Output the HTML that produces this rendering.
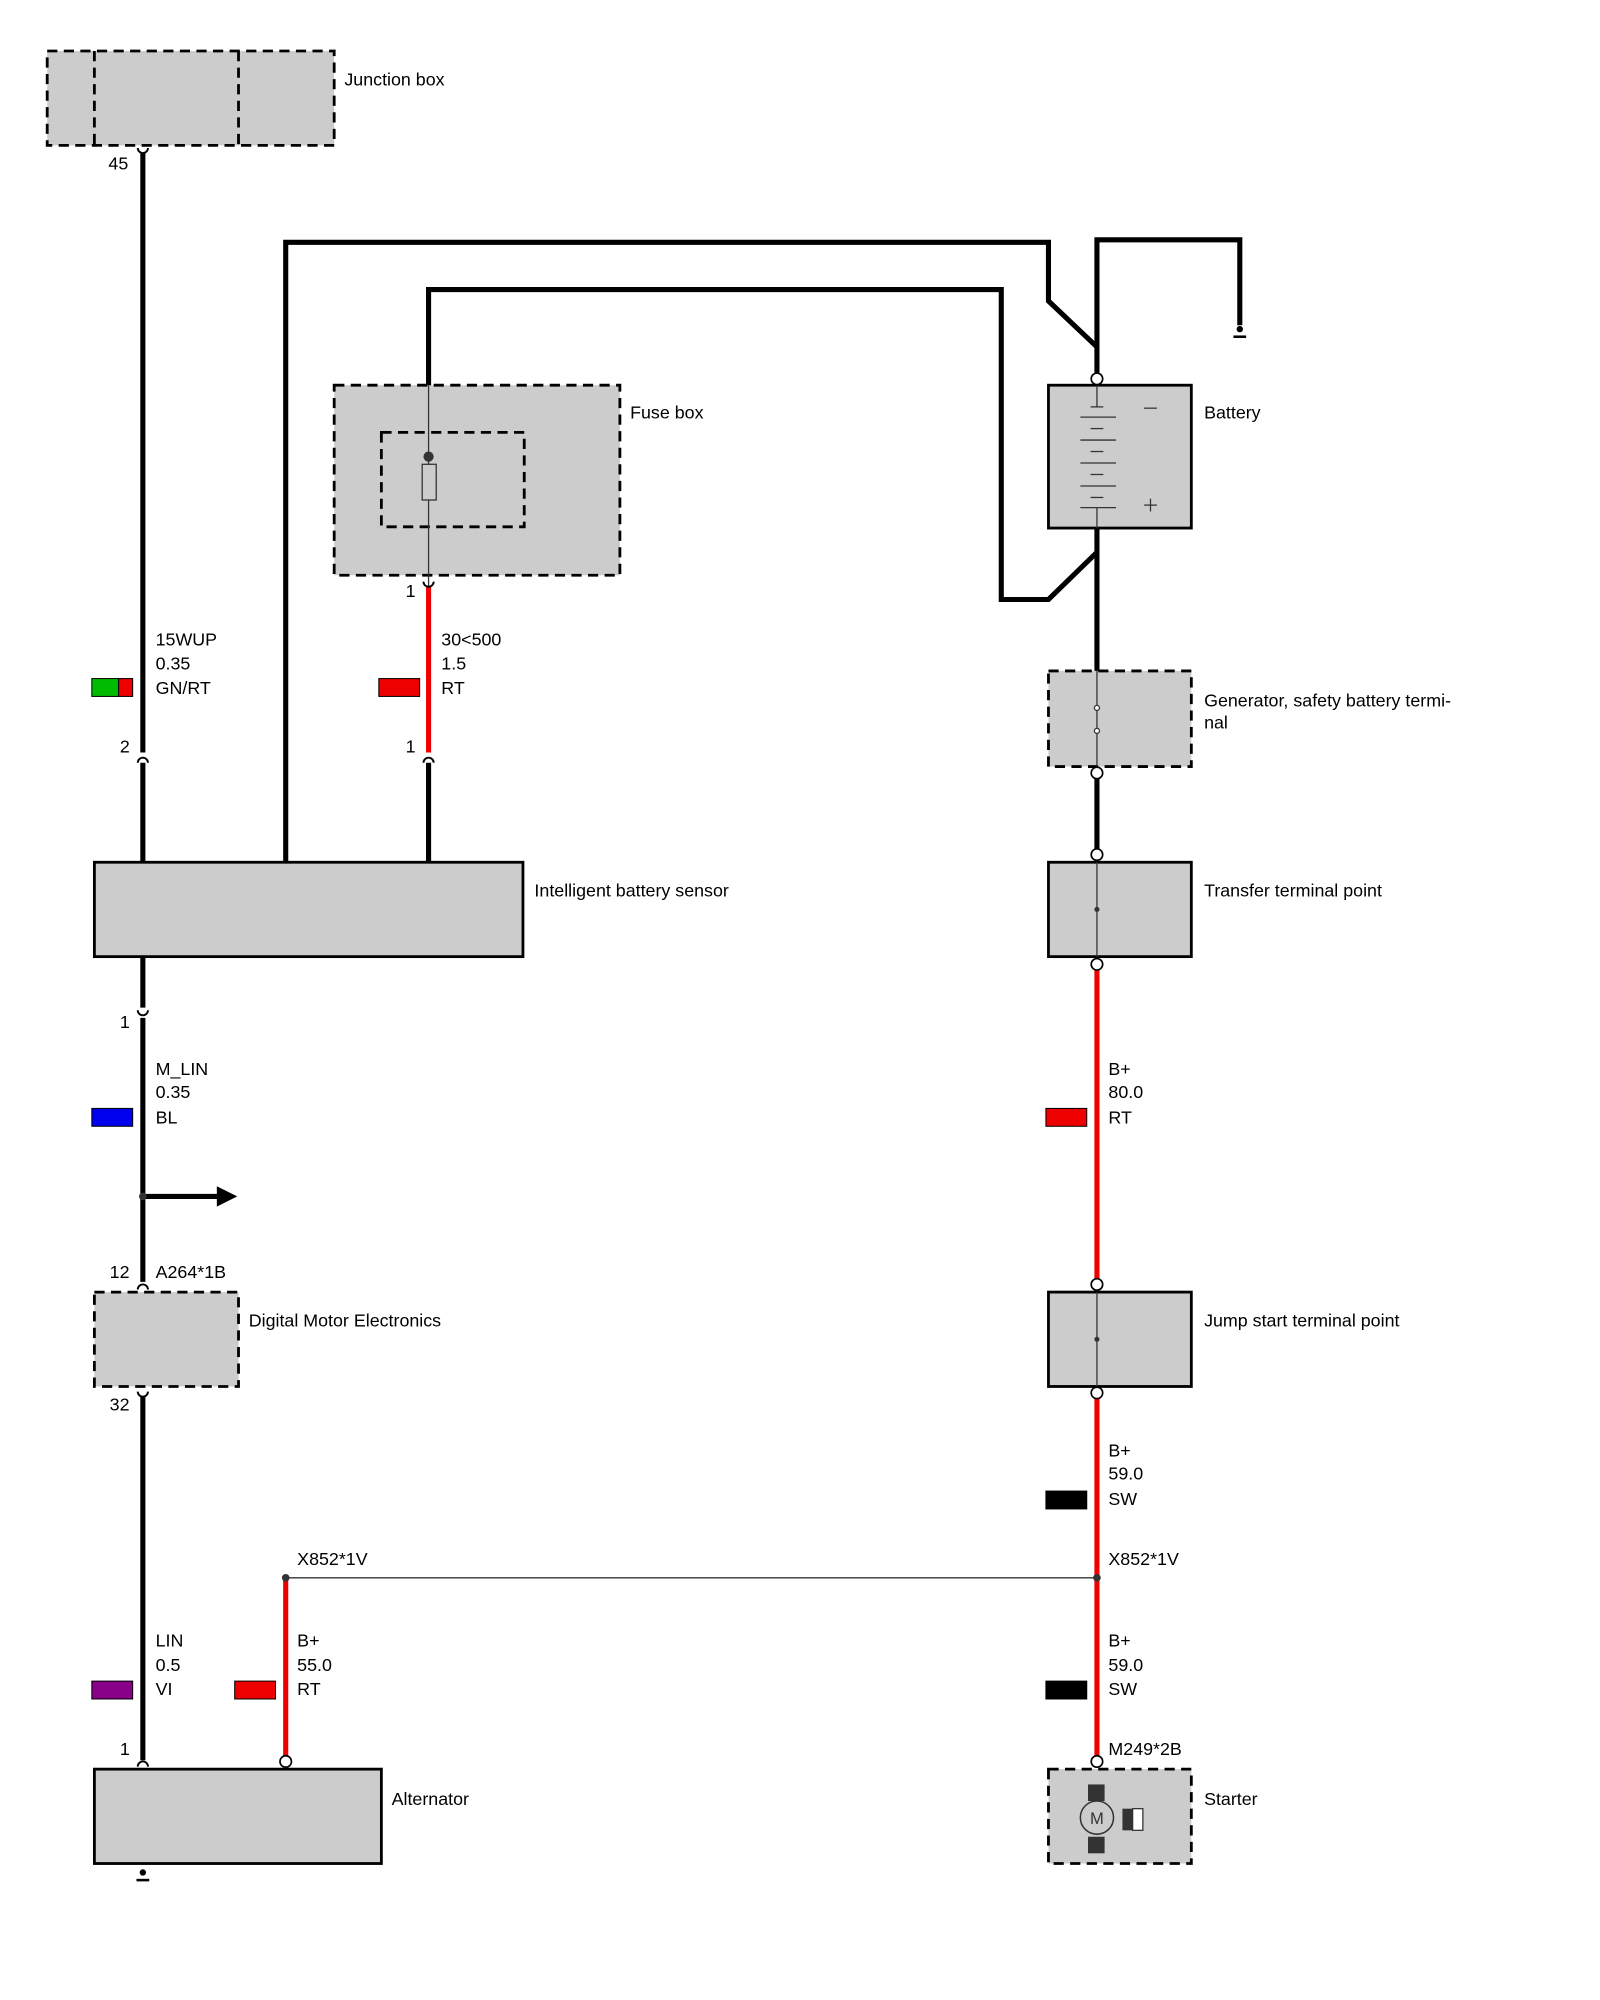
<!DOCTYPE html>
<html><head><meta charset="utf-8"><style>html,body{margin:0;padding:0;background:#fff}svg{display:block}</style></head>
<body>
<svg width="1600" height="2000" viewBox="0 0 1254 1568" preserveAspectRatio="xMinYMin meet" xmlns="http://www.w3.org/2000/svg" font-family="Liberation Sans, sans-serif" font-size="14" fill="#000">
<rect width="1254" height="1568" fill="#fff"/>
<g stroke="#000" stroke-width="2.2" stroke-dasharray="8,5" fill="#ccc">
<rect x="37" y="40" width="225" height="74"/>
<line x1="74" y1="40" x2="74" y2="114"/><line x1="187" y1="40" x2="187" y2="114"/>
<rect x="262" y="302" width="224" height="149"/>
<rect x="299" y="339" width="112" height="74"/>
<rect x="822" y="526" width="112" height="75"/>
<rect x="74" y="1013" width="113" height="74"/>
<rect x="822" y="1387" width="112" height="74"/>
</g>
<g stroke="#000" stroke-width="2.2" fill="#ccc">
<rect x="822" y="302" width="112" height="112"/>
<rect x="74" y="676" width="336" height="74"/>
<rect x="822" y="676" width="112" height="74"/>
<rect x="822" y="1013" width="112" height="74"/>
<rect x="74" y="1387" width="225" height="74"/>
</g>
<g stroke="#000" stroke-width="4" fill="none">
<line x1="112" y1="120" x2="112" y2="590"/>
<line x1="112" y1="598" x2="112" y2="676"/>
<polyline points="224,676 224,190 822,190 822,236 860,272 860,292"/>
<polyline points="860,272 860,188 972,188 972,255"/>
<polyline points="336,302 336,227 785,227 785,470 822,470 860,433"/>
<line x1="860" y1="414" x2="860" y2="526"/>
<line x1="860" y1="606" x2="860" y2="670"/>
<line x1="336" y1="598" x2="336" y2="676"/>
<line x1="112" y1="750" x2="112" y2="790"/>
<line x1="112" y1="798" x2="112" y2="1005"/>
<line x1="112" y1="1095" x2="112" y2="1380"/>
<line x1="112" y1="938" x2="172" y2="938"/>
</g>
<polygon points="170,930 186,938 170,946" fill="#000"/>
<g stroke="#e00" stroke-width="4">
<line x1="336" y1="460" x2="336" y2="590"/>
<line x1="860" y1="760" x2="860" y2="1003"/>
<line x1="860" y1="1096" x2="860" y2="1377"/>
<line x1="224" y1="1237" x2="224" y2="1377"/>
</g>
<g stroke="#333" stroke-width="1" fill="none">
<line x1="336" y1="302" x2="336" y2="460"/>
<line x1="860" y1="526" x2="860" y2="601"/>
<line x1="860" y1="676" x2="860" y2="750"/>
<line x1="860" y1="1013" x2="860" y2="1087"/>
<line x1="224" y1="1237" x2="860" y2="1237"/>
<rect x="331" y="364" width="11" height="28" fill="#ccc"/>
<line x1="860" y1="302" x2="860" y2="319"/><line x1="855" y1="319" x2="865" y2="319"/>
<line x1="847" y1="327" x2="875" y2="327"/><line x1="855" y1="336" x2="865" y2="336"/>
<line x1="847" y1="345" x2="875" y2="345"/><line x1="855" y1="354" x2="865" y2="354"/>
<line x1="847" y1="363" x2="875" y2="363"/><line x1="855" y1="372" x2="865" y2="372"/>
<line x1="847" y1="381" x2="875" y2="381"/><line x1="855" y1="390" x2="865" y2="390"/>
<line x1="847" y1="398" x2="875" y2="398"/><line x1="860" y1="398" x2="860" y2="414"/>
<line x1="897" y1="320" x2="907" y2="320"/>
<line x1="897" y1="396" x2="907" y2="396"/><line x1="902" y1="391" x2="902" y2="401"/>
<circle cx="860" cy="555" r="2" fill="#fff"/><circle cx="860" cy="573" r="2" fill="#fff"/>
</g>
<g fill="#333">
<circle cx="336" cy="358" r="4"/><circle cx="860" cy="713" r="2"/><circle cx="860" cy="1050" r="2"/>
<circle cx="112" cy="938" r="3"/><circle cx="224" cy="1237" r="3"/><circle cx="860" cy="1237" r="3"/>
</g>
<g fill="#fff" stroke="#000" stroke-width="1.3">
<circle cx="860" cy="297" r="4.5"/><circle cx="860" cy="606" r="4.5"/><circle cx="860" cy="670" r="4.5"/>
<circle cx="860" cy="756" r="4.5"/><circle cx="860" cy="1007" r="4.5"/><circle cx="860" cy="1092" r="4.5"/>
<circle cx="860" cy="1381" r="4.5"/><circle cx="224" cy="1381" r="4.5"/>
</g>
<g stroke="#000" stroke-width="1.5" fill="none">
<path d="M108,116 a4,4 0 0 0 8,0"/><path d="M332,456 a4,4 0 0 0 8,0"/>
<path d="M108,598 a4,4 0 0 1 8,0"/><path d="M332,598 a4,4 0 0 1 8,0"/>
<path d="M108,792 a4,4 0 0 0 8,0"/><path d="M108,1011 a4,4 0 0 1 8,0"/>
<path d="M108,1091 a4,4 0 0 0 8,0"/><path d="M108,1385 a4,4 0 0 1 8,0"/>
</g>
<g fill="#000"><circle cx="972" cy="258" r="2.5"/><rect x="967" y="263" width="10" height="2"/>
<circle cx="112" cy="1468" r="2.5"/><rect x="107" y="1473" width="10" height="2"/></g>
<g>
<rect x="853" y="1399" width="13" height="13" fill="#333"/><rect x="853" y="1440" width="13" height="13" fill="#333"/>
<circle cx="860" cy="1425" r="13" fill="#ccc" stroke="#333" stroke-width="1.2"/>
<text x="860" y="1430" font-size="13" text-anchor="middle" fill="#333">M</text>
<rect x="880" y="1418" width="8" height="17" fill="#333"/><rect x="888" y="1418" width="8" height="17" fill="#fff" stroke="#333"/>
</g>
<g stroke="#000" stroke-width="0.8">
<rect x="72" y="532" width="21" height="14" fill="#0b0"/><rect x="93" y="532" width="11" height="14" fill="#e00"/>
<rect x="297" y="532" width="32" height="14" fill="#e00"/>
<rect x="820" y="869" width="32" height="14" fill="#e00"/>
<rect x="72" y="869" width="32" height="14" fill="#00e"/>
<rect x="820" y="1169" width="32" height="14" fill="#000"/>
<rect x="820" y="1318" width="32" height="14" fill="#000"/>
<rect x="72" y="1318" width="32" height="14" fill="#808"/>
<rect x="184" y="1318" width="32" height="14" fill="#e00"/>
</g>
<g>
<text x="270" y="67">Junction box</text><text x="85" y="133">45</text>
<text x="494" y="328">Fuse box</text><text x="318" y="468">1</text>
<text x="944" y="328">Battery</text>
<text x="122" y="506">15WUP</text><text x="122" y="525">0.35</text><text x="122" y="544">GN/RT</text><text x="94" y="590">2</text>
<text x="346" y="506">30&lt;500</text><text x="346" y="525">1.5</text><text x="346" y="544">RT</text><text x="318" y="590">1</text>
<text x="944" y="554">Generator, safety battery termi-</text><text x="944" y="571">nal</text>
<text x="419" y="703">Intelligent battery sensor</text><text x="944" y="703">Transfer terminal point</text>
<text x="94" y="806">1</text>
<text x="122" y="843">M_LIN</text><text x="122" y="861">0.35</text><text x="122" y="881">BL</text>
<text x="869" y="843">B+</text><text x="869" y="861">80.0</text><text x="869" y="881">RT</text>
<text x="86" y="1002">12</text><text x="122" y="1002">A264*1B</text>
<text x="195" y="1040">Digital Motor Electronics</text><text x="944" y="1040">Jump start terminal point</text>
<text x="86" y="1106">32</text>
<text x="869" y="1142">B+</text><text x="869" y="1160">59.0</text><text x="869" y="1180">SW</text>
<text x="233" y="1227">X852*1V</text><text x="869" y="1227">X852*1V</text>
<text x="122" y="1291">LIN</text><text x="122" y="1310">0.5</text><text x="122" y="1329">VI</text>
<text x="233" y="1291">B+</text><text x="233" y="1310">55.0</text><text x="233" y="1329">RT</text>
<text x="869" y="1291">B+</text><text x="869" y="1310">59.0</text><text x="869" y="1329">SW</text>
<text x="94" y="1376">1</text><text x="869" y="1376">M249*2B</text>
<text x="307" y="1415">Alternator</text><text x="944" y="1415">Starter</text>
</g>
</svg>
</body></html>
